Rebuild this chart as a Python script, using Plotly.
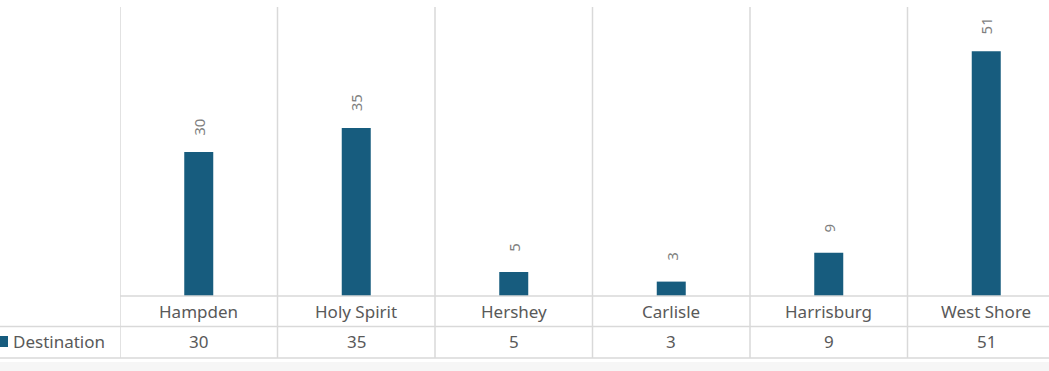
import plotly.graph_objects as go

categories = ["Hampden", "Holy Spirit", "Hershey", "Carlisle", "Harrisburg", "West Shore"]
values = [30, 35, 5, 3, 9, 51]
series_name = "Destination"

BAR = "#175C7E"
TXT = "#595959"
GRID = "#D9D9D9"
FONT = "Noto Sans"

W, H = 1049, 371
ML, MR, MT, MB = 120, 0, 7, 75
plot_w = W - ML - MR
plot_h = H - MT - MB

def py(pix):  # pixel y -> paper y
    return (H - MB - pix) / plot_h

def px(pix):  # pixel x -> paper x
    return (pix - ML) / plot_w

col_w = 157.5
xmax = plot_w / col_w - 0.5

fig = go.Figure()
fig.add_trace(go.Bar(x=list(range(len(categories))), y=values, marker_color=BAR,
                     marker_line_width=0, name=series_name, showlegend=False))

shapes = []
# vertical column separators
for i in range(len(categories) + 1):
    shapes.append(dict(type="line", xref="x", yref="paper", x0=i - 0.5, x1=i - 0.5,
                       y0=1, y1=py(358), line=dict(color=GRID, width=1.5)))
# table horizontal lines
shapes.append(dict(type="line", xref="paper", yref="paper", x0=0, x1=1, y0=0, y1=0,
                   line=dict(color=GRID, width=1.5)))
for yy in (326.5, 358):
    shapes.append(dict(type="line", xref="paper", yref="paper", x0=px(0), x1=1,
                       y0=py(yy), y1=py(yy), line=dict(color=GRID, width=1.5)))
# bottom light band
shapes.append(dict(type="rect", xref="paper", yref="paper", x0=px(0), x1=1,
                   y0=py(362), y1=py(372), fillcolor="#F6F6F6", line=dict(width=0)))
# legend key
shapes.append(dict(type="rect", xref="paper", yref="paper", x0=px(-1), x1=px(8),
                   y0=py(347), y1=py(336), fillcolor=BAR, line=dict(width=0)))

annotations = []
for i, (c, v) in enumerate(zip(categories, values)):
    annotations.append(dict(x=i, y=v, xref="x", yref="y", text=str(v), showarrow=False,
                            textangle=-90, yanchor="middle", xanchor="center", yshift=25,
                            font=dict(family=FONT, size=15, color="#7F7F7F")))
    annotations.append(dict(x=i, y=py(311), xref="x", yref="paper", text=c, showarrow=False,
                            yanchor="middle", xanchor="center",
                            font=dict(family=FONT, size=17, color=TXT)))
    annotations.append(dict(x=i, y=py(341.5), xref="x", yref="paper", text=str(v), showarrow=False,
                            yanchor="middle", xanchor="center",
                            font=dict(family=FONT, size=17, color=TXT)))
annotations.append(dict(x=px(11), y=py(341.5), xref="paper", yref="paper", text=series_name,
                        showarrow=False, xanchor="left", yanchor="middle",
                        font=dict(family=FONT, size=17, color=TXT)))

fig.update_layout(
    width=W, height=H,
    margin=dict(l=ML, r=MR, t=MT, b=MB, pad=0),
    paper_bgcolor="white", plot_bgcolor="white",
    bargap=1 - 29 / col_w,
    xaxis=dict(range=[-0.5, xmax], showticklabels=False, showgrid=False, zeroline=False,
               ticks="", fixedrange=True),
    yaxis=dict(range=[0, 60.2], showticklabels=False, showgrid=False, zeroline=False,
               ticks="", fixedrange=True),
    shapes=shapes,
    annotations=annotations,
    showlegend=False,
)

fig.write_html("out.html", config={"displayModeBar": False},
               post_script="document.body.style.margin='0px';document.body.style.overflow='hidden';")
